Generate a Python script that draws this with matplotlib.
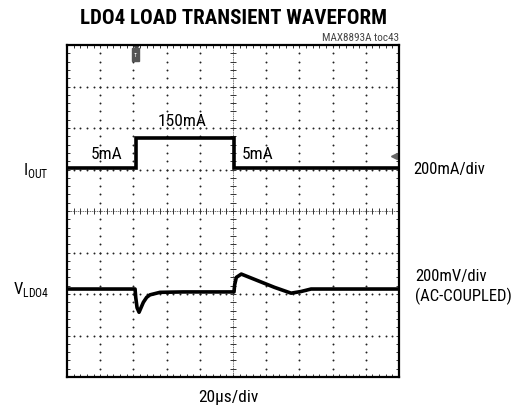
import numpy as np
import matplotlib
matplotlib.use("Agg")
from matplotlib import pyplot as plt
from matplotlib.patches import Rectangle

plt.rcParams['font.family'] = ['Roboto Condensed', 'DejaVu Sans']

# load current step (time in us, current in mA)
t_iout = [0, 41.4, 41.4, 100.6, 100.6, 200]
iout_ma = [5, 5, 150, 150, 5, 5]

# LDO4 output deviation (AC-coupled, mV)
t_vout = [0, 41.0, 41.4, 42.2, 43.4, 46.0, 48.0, 50.0, 56.0, 70.0, 100.6,
          101.0, 102.0, 105.0, 115.0, 125.0, 135.0, 141.0, 147.0, 200]
vout_mv = [0, 0, -40, -90, -112, -64, -40, -28, -16, -14, -14,
           20, 56, 72, 40, 8, -20, -12, 0, 0]

us_per_div = 20
ma_per_div = 200
mv_per_div = 200
iout_zero = 1.005    # channel 1 ground, in divisions from centre
vout_zero = -1.88    # channel 2 ground, in divisions from centre

fig = plt.figure(figsize=(5.18, 4.10), dpi=100)
ax = fig.add_axes([67 / 518, 32 / 410, 332 / 518, 332 / 410])
ax.set_xlim(0, 10 * us_per_div)
ax.set_ylim(-4, 4)

# scope graticule
minor_x = np.arange(0, 200.01, us_per_div / 5)
minor_y = np.arange(-4, 4.01, 0.2)
for k in range(1, 10):
    if k == 5:
        continue
    ax.plot(np.full_like(minor_y, k * us_per_div), minor_y, ls='none', marker='o',
            ms=1.4, mew=0, color='#222222')
for j in range(-3, 4):
    if j == 0:
        continue
    ax.plot(minor_x, np.full_like(minor_x, j), ls='none', marker='o',
            ms=1.4, mew=0, color='#222222')
ax.axhline(0, color='#333333', lw=0.5, ls=(0, (1.5, 1.0)))
ax.axvline(100, color='#333333', lw=0.5, ls=(0, (1.5, 1.0)))
ax.plot(minor_x, np.zeros_like(minor_x), ls='none', marker='|', ms=4, mew=0.7, color='#333333')
ax.plot(np.full_like(minor_y, 100), minor_y, ls='none', marker='_', ms=4, mew=0.7, color='#333333')

ax.set_xticks(np.arange(0, 201, us_per_div))
ax.set_xticks(minor_x, minor=True)
ax.set_yticks(np.arange(-4, 5, 1))
ax.set_yticks(minor_y, minor=True)
ax.tick_params(which='both', direction='in', length=2.5, width=0.7, color='#333333',
               top=True, right=True, labelbottom=False, labelleft=False)
for s in ax.spines.values():
    s.set_linewidth(1.6)

# traces
iout_div = iout_zero + np.array(iout_ma) / ma_per_div
vout_div = vout_zero + np.array(vout_mv) / mv_per_div
ax.plot(t_iout, iout_div, color='black', lw=2.6, solid_joinstyle='miter')
ax.plot(t_vout, vout_div, color='black', lw=2.6)

# trigger and channel markers
ax.plot([41.4], [3.96], marker='v', ms=3.5, color='#444444', clip_on=False)
ax.add_patch(Rectangle((39.4, 3.62), 4.0, 0.3, color='#555555', zorder=5))
ax.text(41.4, 3.77, 'T', color='white', fontsize=4.5, ha='center', va='center', zorder=6)
ax.plot([197], [1.33], marker='<', ms=4, color='#666666')

# trace annotations
lab = dict(fontsize=12.5, ha='center', va='center')
ax.text(41.4 - 17.5, iout_div[0] + 0.35, '5mA', **lab)
ax.text(69.5, iout_div[2] + 0.43, '150mA', **lab)
ax.text(115, iout_div[-1] + 0.35, '5mA', **lab)

fig.text(233 / 518, 1 - 18 / 410, 'LDO4 LOAD TRANSIENT WAVEFORM', fontweight='bold',
         fontsize=15, ha='center', va='center')
fig.text(399 / 518, 1 - 38 / 410, 'MAX8893A toc43', fontsize=8,
         color='#444444', ha='right', va='center')
side = dict(fontsize=12, va='center')
fig.text(49 / 518, 1 - 171 / 410, r'I$_{\mathregular{OUT}}$', ha='right', **side)
fig.text(49 / 518, 1 - 290 / 410, r'V$_{\mathregular{LDO4}}$', ha='right', **side)
fig.text(413 / 518, 1 - 170 / 410, '200mA/div', ha='left', **side)
fig.text(415 / 518, 1 - 277 / 410, '200mV/div', ha='left', **side)
fig.text(415 / 518, 1 - 296 / 410, '(AC-COUPLED)', ha='left', **side)
fig.text(228 / 518, 1 - 398 / 410, '20µs/div', ha='center', fontsize=12.5, va='center')

fig.savefig('out.png', dpi=100)
